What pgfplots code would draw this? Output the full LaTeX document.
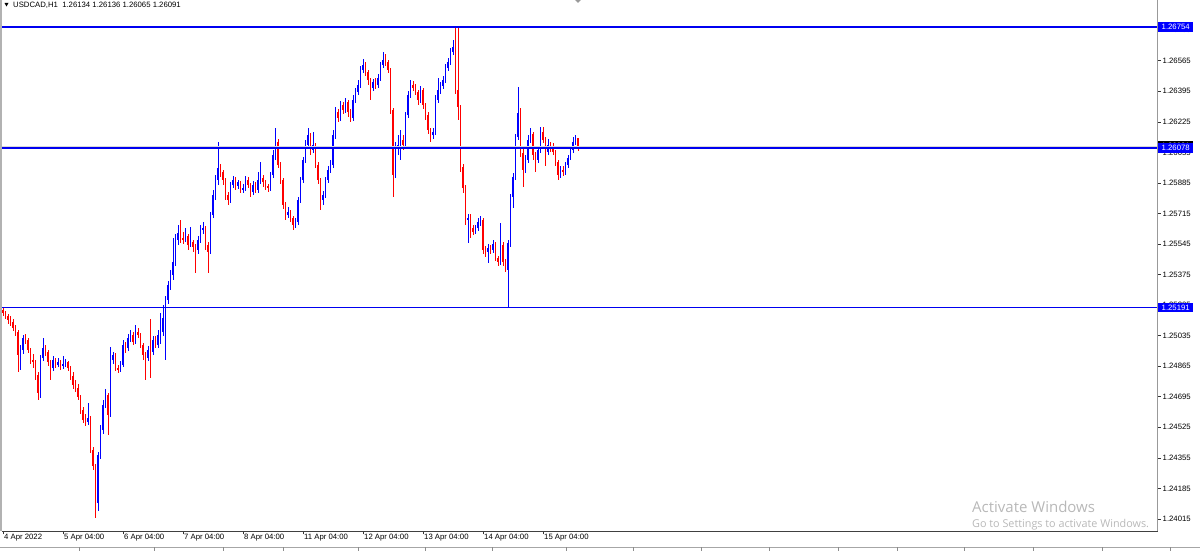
\documentclass[border=0pt]{standalone}
\usepackage{pgfplots}
\pgfplotsset{compat=1.18}
\usepackage{pgfplotstable}
\usepackage{fontspec}
\setmainfont{Liberation Sans}
\newfontfamily\winfont{Open Sans}
\definecolor{bull}{RGB}{0,0,255}
\definecolor{bear}{RGB}{255,0,0}
\definecolor{lvl}{RGB}{0,0,240}

% USDCAD H1 bars: index, open, high, low, close
\pgfplotstableread{
i o h l c
0 1.25179 1.25196 1.25146 1.25163
1 1.25163 1.25174 1.25130 1.25146
2 1.25146 1.25157 1.25102 1.25124
3 1.25124 1.25146 1.25090 1.25113
4 1.25113 1.25130 1.25063 1.25079
5 1.25079 1.25096 1.25035 1.25057
6 1.25057 1.25068 1.24835 1.24929
7 1.24929 1.24985 1.24846 1.24957
8 1.24957 1.25040 1.24935 1.25024
9 1.25024 1.25046 1.24990 1.25013
10 1.25013 1.25024 1.24940 1.24957
11 1.24957 1.24968 1.24880 1.24901
12 1.24901 1.24935 1.24857 1.24890
13 1.24890 1.24901 1.24790 1.24818
14 1.24818 1.24835 1.24679 1.24718
15 1.24718 1.24930 1.24690 1.24913
16 1.24913 1.25024 1.24896 1.24968
17 1.24968 1.24985 1.24924 1.24946
18 1.24946 1.24957 1.24868 1.24890
19 1.24890 1.24901 1.24790 1.24857
20 1.24857 1.24924 1.24840 1.24901
21 1.24901 1.24913 1.24857 1.24874
22 1.24874 1.24913 1.24862 1.24890
23 1.24890 1.24901 1.24846 1.24868
24 1.24868 1.24924 1.24851 1.24879
25 1.24879 1.24907 1.24862 1.24890
26 1.24890 1.24896 1.24840 1.24857
27 1.24857 1.24868 1.24790 1.24812
28 1.24812 1.24835 1.24740 1.24762
29 1.24762 1.24790 1.24723 1.24746
30 1.24746 1.24768 1.24679 1.24696
31 1.24696 1.24707 1.24601 1.24623
32 1.24623 1.24640 1.24551 1.24568
33 1.24568 1.24601 1.24535 1.24557
34 1.24557 1.24660 1.24540 1.24579
35 1.24579 1.24590 1.24380 1.24401
36 1.24401 1.24418 1.24290 1.24312
37 1.24312 1.24323 1.24023 1.24106
38 1.24106 1.24390 1.24060 1.24373
39 1.24373 1.24540 1.24350 1.24512
40 1.24512 1.24679 1.24490 1.24651
41 1.24651 1.24740 1.24630 1.24707
42 1.24707 1.24718 1.24480 1.24596
43 1.24596 1.24974 1.24580 1.24901
44 1.24901 1.24946 1.24880 1.24929
45 1.24929 1.24940 1.24840 1.24857
46 1.24857 1.24874 1.24830 1.24846
47 1.24846 1.24896 1.24835 1.24874
48 1.24874 1.25013 1.24862 1.24985
49 1.24985 1.25002 1.24940 1.24968
50 1.24968 1.25046 1.24951 1.25024
51 1.25024 1.25068 1.25002 1.25040
52 1.25040 1.25057 1.24985 1.25002
53 1.25002 1.25096 1.24990 1.25057
54 1.25057 1.25079 1.25024 1.25040
55 1.25040 1.25051 1.24968 1.24985
56 1.24985 1.24996 1.24901 1.24929
57 1.24929 1.24946 1.24790 1.24913
58 1.24913 1.24979 1.24896 1.24957
59 1.24957 1.25130 1.24800 1.24946
60 1.24946 1.25035 1.24930 1.25013
61 1.25013 1.25035 1.24968 1.24985
62 1.24985 1.25068 1.24968 1.25040
63 1.25040 1.25163 1.24990 1.25057
64 1.25057 1.25207 1.25035 1.25135
65 1.25135 1.25257 1.24901 1.25235
66 1.25235 1.25340 1.25213 1.25318
67 1.25318 1.25402 1.25290 1.25374
68 1.25374 1.25580 1.25346 1.25446
69 1.25446 1.25600 1.25420 1.25569
70 1.25569 1.25652 1.25541 1.25608
71 1.25608 1.25680 1.25552 1.25580
72 1.25580 1.25613 1.25546 1.25569
73 1.25569 1.25635 1.25557 1.25591
74 1.25591 1.25602 1.25513 1.25541
75 1.25541 1.25640 1.25530 1.25557
76 1.25557 1.25569 1.25502 1.25530
77 1.25530 1.25546 1.25385 1.25513
78 1.25513 1.25591 1.25490 1.25569
79 1.25569 1.25652 1.25552 1.25624
80 1.25624 1.25669 1.25602 1.25635
81 1.25635 1.25646 1.25513 1.25541
82 1.25541 1.25557 1.25385 1.25502
83 1.25502 1.25724 1.25490 1.25708
84 1.25708 1.25847 1.25690 1.25819
85 1.25819 1.25930 1.25791 1.25902
86 1.25902 1.26113 1.25874 1.25969
87 1.25969 1.25991 1.25919 1.25947
88 1.25947 1.25958 1.25874 1.25902
89 1.25902 1.25913 1.25791 1.25819
90 1.25819 1.25835 1.25763 1.25791
91 1.25791 1.25891 1.25774 1.25874
92 1.25874 1.25924 1.25858 1.25902
93 1.25902 1.25919 1.25847 1.25869
94 1.25869 1.25902 1.25852 1.25891
95 1.25891 1.25896 1.25830 1.25847
96 1.25847 1.25880 1.25830 1.25858
97 1.25858 1.25924 1.25841 1.25902
98 1.25902 1.25919 1.25858 1.25874
99 1.25874 1.25885 1.25808 1.25836
100 1.25836 1.25896 1.25819 1.25874
101 1.25874 1.25891 1.25830 1.25847
102 1.25847 1.25947 1.25830 1.25902
103 1.25902 1.26002 1.25880 1.25913
104 1.25913 1.25930 1.25863 1.25891
105 1.25891 1.25902 1.25847 1.25869
106 1.25869 1.25880 1.25835 1.25858
107 1.25858 1.25947 1.25841 1.25930
108 1.25930 1.26069 1.25913 1.26041
109 1.26041 1.26191 1.26013 1.26113
110 1.26113 1.26130 1.25969 1.25986
111 1.25986 1.26002 1.25880 1.25902
112 1.25902 1.25913 1.25740 1.25763
113 1.25763 1.25780 1.25680 1.25708
114 1.25708 1.25752 1.25691 1.25724
115 1.25724 1.25735 1.25669 1.25691
116 1.25691 1.25702 1.25624 1.25652
117 1.25652 1.25691 1.25635 1.25669
118 1.25669 1.25808 1.25652 1.25791
119 1.25791 1.25919 1.25774 1.25902
120 1.25902 1.26030 1.25885 1.26013
121 1.26013 1.26125 1.25996 1.26097
122 1.26097 1.26191 1.26080 1.26152
123 1.26152 1.26163 1.26041 1.26069
124 1.26069 1.26169 1.26052 1.26097
125 1.26097 1.26108 1.25969 1.25986
126 1.25986 1.26002 1.25880 1.25902
127 1.25902 1.25913 1.25735 1.25791
128 1.25791 1.25841 1.25763 1.25819
129 1.25819 1.25919 1.25802 1.25902
130 1.25902 1.25980 1.25885 1.25958
131 1.25958 1.26013 1.25941 1.25986
132 1.25986 1.26180 1.25969 1.26152
133 1.26152 1.26308 1.26130 1.26280
134 1.26280 1.26297 1.26225 1.26247
135 1.26247 1.26341 1.26230 1.26319
136 1.26319 1.26336 1.26269 1.26291
137 1.26291 1.26358 1.26275 1.26336
138 1.26336 1.26347 1.26252 1.26280
139 1.26280 1.26297 1.26225 1.26247
140 1.26247 1.26375 1.26230 1.26347
141 1.26347 1.26414 1.26330 1.26391
142 1.26391 1.26458 1.26375 1.26430
143 1.26430 1.26536 1.26414 1.26514
144 1.26514 1.26575 1.26497 1.26542
145 1.26542 1.26558 1.26480 1.26503
146 1.26503 1.26514 1.26430 1.26458
147 1.26458 1.26469 1.26347 1.26414
148 1.26414 1.26464 1.26397 1.26447
149 1.26447 1.26469 1.26408 1.26430
150 1.26430 1.26491 1.26414 1.26469
151 1.26469 1.26558 1.26453 1.26542
152 1.26542 1.26614 1.26525 1.26569
153 1.26569 1.26603 1.26536 1.26558
154 1.26558 1.26569 1.26497 1.26514
155 1.26514 1.26525 1.26269 1.26291
156 1.26291 1.26302 1.25808 1.25930
157 1.25930 1.26113 1.25913 1.26080
158 1.26080 1.26152 1.26041 1.26097
159 1.26097 1.26180 1.26013 1.26125
160 1.26125 1.26152 1.26069 1.26097
161 1.26097 1.26280 1.26080 1.26264
162 1.26264 1.26397 1.26247 1.26375
163 1.26375 1.26458 1.26358 1.26430
164 1.26430 1.26453 1.26397 1.26414
165 1.26414 1.26436 1.26375 1.26391
166 1.26391 1.26403 1.26319 1.26347
167 1.26347 1.26425 1.26330 1.26403
168 1.26403 1.26414 1.26297 1.26319
169 1.26319 1.26330 1.26236 1.26264
170 1.26264 1.26280 1.26158 1.26180
171 1.26180 1.26191 1.26113 1.26152
172 1.26152 1.26191 1.26130 1.26169
173 1.26169 1.26375 1.26152 1.26347
174 1.26347 1.26470 1.26330 1.26403
175 1.26403 1.26447 1.26380 1.26425
176 1.26425 1.26480 1.26408 1.26458
177 1.26458 1.26547 1.26441 1.26525
178 1.26525 1.26580 1.26508 1.26558
179 1.26558 1.26636 1.26541 1.26614
180 1.26614 1.26681 1.26597 1.26642
181 1.26642 1.26760 1.26380 1.26403
182 1.26403 1.26747 1.26236 1.26308
183 1.26308 1.26319 1.25947 1.25975
184 1.25975 1.25991 1.25830 1.25858
185 1.25858 1.25874 1.25652 1.25680
186 1.25680 1.25713 1.25552 1.25691
187 1.25691 1.25713 1.25580 1.25635
188 1.25635 1.25652 1.25596 1.25613
189 1.25613 1.25652 1.25602 1.25635
190 1.25635 1.25691 1.25619 1.25669
191 1.25669 1.25702 1.25646 1.25680
192 1.25680 1.25691 1.25490 1.25513
193 1.25513 1.25535 1.25474 1.25502
194 1.25502 1.25546 1.25440 1.25524
195 1.25524 1.25541 1.25490 1.25513
196 1.25513 1.25569 1.25496 1.25546
197 1.25546 1.25557 1.25452 1.25469
198 1.25469 1.25480 1.25420 1.25446
199 1.25446 1.25663 1.25430 1.25541
200 1.25541 1.25557 1.25424 1.25446
201 1.25446 1.25463 1.25390 1.25402
202 1.25402 1.25569 1.25196 1.25552
203 1.25552 1.25824 1.25530 1.25808
204 1.25808 1.25941 1.25746 1.25919
205 1.25919 1.26158 1.25902 1.26141
206 1.26141 1.26419 1.26125 1.26275
207 1.26275 1.26300 1.26030 1.26052
208 1.26052 1.26080 1.25863 1.25958
209 1.25958 1.26041 1.25941 1.26013
210 1.26013 1.26150 1.25996 1.26125
211 1.26125 1.26191 1.26108 1.26158
212 1.26158 1.26169 1.26013 1.26041
213 1.26041 1.26058 1.25947 1.26013
214 1.26013 1.26086 1.25996 1.26069
215 1.26069 1.26197 1.26052 1.26169
216 1.26169 1.26197 1.26108 1.26125
217 1.26125 1.26141 1.25980 1.26058
218 1.26058 1.26130 1.26041 1.26097
219 1.26097 1.26113 1.26058 1.26080
220 1.26080 1.26108 1.26041 1.26058
221 1.26058 1.26069 1.25980 1.26002
222 1.26002 1.26013 1.25902 1.25930
223 1.25930 1.25980 1.25913 1.25958
224 1.25958 1.25980 1.25924 1.25947
225 1.25947 1.26002 1.25930 1.25986
226 1.25986 1.26041 1.25969 1.26025
227 1.26025 1.26086 1.26013 1.26069
228 1.26069 1.26141 1.26052 1.26113
229 1.26113 1.26152 1.26097 1.26134
230 1.26134 1.26136 1.26065 1.26091
}\bars

% horizontal levels drawn on the chart
\pgfplotstableread{
lv y
0 1.26754
1 1.26078
2 1.25191
}\levels

% up bars keep their index, down bars are pushed far right of xmax (and the reverse)
\pgfplotsset{
  wick/.style={draw=none, mark=none, forget plot,
    error bars/.cd, y dir=both, y explicit, error mark=none,
    error bar style={line width=0.8pt, draw=#1, solid}},
  body/.style={draw=none, mark=none, forget plot,
    error bars/.cd, y dir=plus, y explicit, error mark=none,
    error bar style={line width=1.8pt, draw=#1, solid}},
  hline/.style={draw=none, mark=none, forget plot,
    error bars/.cd, x dir=both, x explicit, error mark=none,
    error bar style={line width=1.7pt, draw=lvl, solid}},
}

\begin{document}
\begin{tikzpicture}
\useasboundingbox (0pt,0pt) rectangle (1200pt,551pt);
\fill[black!30] (0pt,20pt) rectangle (2pt,551pt);

\begin{axis}[
  at={(2pt,20pt)}, anchor=south west,
  scale only axis, width=1155pt, height=531pt,
  xmin=-0.4, xmax=461.6, ymin=1.23948, ymax=1.26903,
  clip mode=individual,
  axis x line*=bottom, axis y line*=right,
  axis line style={draw=none},
  tick align=outside, major tick length=3.5pt,
  tick style={black!80, line width=0.6pt},
  xtick={0,24,48,72,96,120,144,168,192,216},
  xticklabels={4 Apr 2022,5 Apr 04:00,6 Apr 04:00,7 Apr 04:00,8 Apr 04:00,11 Apr 04:00,12 Apr 04:00,13 Apr 04:00,14 Apr 04:00,15 Apr 04:00},
  ytick={1.24015,1.24185,1.24355,1.24525,1.24695,1.24865,1.25035,1.25205,1.25375,1.25545,1.25715,1.25885,1.26055,1.26225,1.26395,1.26565,1.26735},
  scaled y ticks=false,
  /pgf/number format/assume math mode=true,
  tick label style={font=\fontsize{7.75}{9}\selectfont, text=black},
  yticklabel style={anchor=west, inner sep=2pt,
    /pgf/number format/fixed, /pgf/number format/fixed zerofill,
    /pgf/number format/precision=5},
  xticklabel style={anchor=west, inner sep=1pt, yshift=-3pt},
]
\addplot[wick=bull] table[x expr={\thisrow{i}+1000*(\thisrow{c}<\thisrow{o})}, y=c,
  y error plus expr={\thisrow{h}-\thisrow{c}},
  y error minus expr={\thisrow{c}-\thisrow{l}}] {\bars};
\addplot[wick=bear] table[x expr={\thisrow{i}+1000*(1-(\thisrow{c}<\thisrow{o}))}, y=c,
  y error plus expr={\thisrow{h}-\thisrow{c}},
  y error minus expr={\thisrow{c}-\thisrow{l}}] {\bars};
\addplot[body=bull] table[x expr={\thisrow{i}+1000*(\thisrow{c}<\thisrow{o})}, y=o,
  y error plus expr={\thisrow{c}-\thisrow{o}}] {\bars};
\addplot[body=bear] table[x expr={\thisrow{i}+1000*(1-(\thisrow{c}<\thisrow{o}))}, y=c,
  y error plus expr={\thisrow{o}-\thisrow{c}}] {\bars};

% light band above the selected 1.26078 line
\addplot[draw=black!15, line width=1.4pt, mark=none, forget plot]
  coordinates {(-0.4,1.26087) (461.6,1.26087)};
% the three levels, spanning the whole chart width
\addplot[hline] table[x expr=231, y=y, x error plus expr=231, x error minus expr=232] {\levels};

\coordinate (L1) at (axis cs:461.6,1.26754);
\coordinate (L2) at (axis cs:461.6,1.26078);
\coordinate (L3) at (axis cs:461.6,1.25191);
\coordinate (B0) at (axis cs:461.6,1.26091);
\end{axis}

% axis frame
\draw[black!40, line width=1pt] (1157pt,20pt) -- (1157pt,551pt);
\draw[black!75, line width=0.8pt] (2pt,20pt) -- (1157.5pt,20pt);

% price labels
\tikzset{plab/.style={anchor=west, inner xsep=3.5pt, inner ysep=0pt, minimum height=9.5pt,
  text=white, font=\fontsize{7.75}{9}\selectfont}}
\node[plab, fill=black] at ([xshift=1pt]B0) {1.26091};
\node[plab, fill=bull] at ([xshift=1pt]L1) {1.26754};
\node[plab, fill=bull] at ([xshift=1pt]L2) {1.26078};
\node[plab, fill=bull] at ([xshift=1pt]L3) {1.25191};

% header
\fill (4.5pt,548pt) -- (8.5pt,548pt) -- (6.5pt,544.5pt) -- cycle;
\node[anchor=west, inner sep=0pt, font=\fontsize{7.75}{9}\selectfont] at (13pt,545.5pt)
  {USDCAD,H1\ \ 1.26134 1.26136 1.26065 1.26091};
\fill[black!40] (575pt,551pt) -- (581pt,551pt) -- (578pt,548pt) -- cycle;

% bottom tab strip
\draw[black!35, line width=0.8pt] (0pt,4pt) -- (1200pt,4pt);
\foreach \sx in {79,154,223,283,358,425,492,566,633,701,769,838,897,964,1033,1102,1170}
  \draw[black!45, line width=0.6pt] (\sx pt,0pt) -- (\sx pt,4pt);

% watermark
\node[anchor=west, inner sep=0pt, text=black!28, font=\winfont\fontsize{15}{17}\selectfont]
  at (972pt,44pt) {Activate Windows};
\node[anchor=west, inner sep=0pt, text=black!28, font=\winfont\fontsize{10.8}{12}\selectfont]
  at (972pt,26pt) {Go to Settings to activate Windows.};
\end{tikzpicture}
\end{document}
